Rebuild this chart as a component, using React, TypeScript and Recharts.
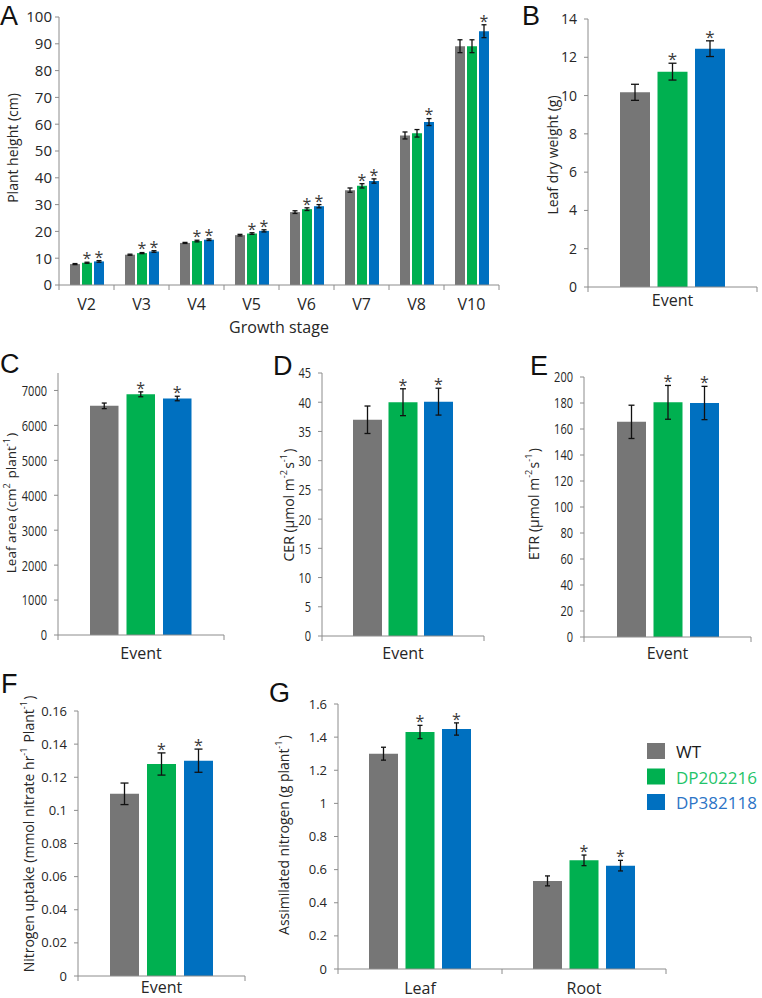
import React from "react";
import { BarChart, Bar, XAxis, YAxis, ErrorBar, LabelList } from "recharts";

const GRAY = "#767676";
const GREEN = "#00b050";
const BLUE = "#0070c0";
const AXIS = "#8c8c8c";
const TEXT = "#262626";
const FONT = "'Open Sans', 'DejaVu Sans', sans-serif";

const seriesNames = ["WT", "DP202216", "DP382118"];
const seriesColors = [GRAY, GREEN, BLUE];
const legendTextColors = ["#1a1a1a", "#1fc46a", "#2c74c6"];

// A - plant height by growth stage
const growthStages = ["V2", "V3", "V4", "V5", "V6", "V7", "V8", "V10"];
const heightWT = [7.8, 11.3, 15.7, 18.6, 27.2, 35.4, 55.8, 89.1];
const heightDP202216 = [8.3, 11.9, 16.4, 19.2, 28.3, 37.0, 56.6, 89.1];
const heightDP382118 = [8.8, 12.5, 16.9, 20.2, 29.4, 38.8, 60.8, 94.7];
const heightErrWT = [0.2, 0.2, 0.2, 0.3, 0.5, 0.8, 1.3, 2.4];
const heightErrDP202216 = [0.2, 0.2, 0.3, 0.3, 0.5, 0.8, 1.4, 2.4];
const heightErrDP382118 = [0.3, 0.3, 0.3, 0.4, 0.6, 0.8, 1.3, 2.4];
const heightSigDP202216 = [true, true, true, true, true, true, false, false];
const heightSigDP382118 = [true, true, true, true, true, true, true, true];

// B-F single "Event" panels, values in order WT, DP202216, DP382118
const eventCategory = ["Event"];
const leafDryWeight = [10.17, 11.25, 12.45];
const leafDryWeightErr = [0.42, 0.44, 0.41];
const leafArea = [6560, 6890, 6770];
const leafAreaErr = [80, 70, 65];
const cer = [37.0, 40.0, 40.1];
const cerErr = [2.35, 2.3, 2.3];
const etr = [165.5, 180.5, 180.0];
const etrErr = [12.8, 13.0, 12.8];
const nitrogenUptake = [0.110, 0.128, 0.130];
const nitrogenUptakeErr = [0.0065, 0.0067, 0.007];
const eventSig = [false, true, true];

// G - assimilated nitrogen by tissue
const tissues = ["Leaf", "Root"];
const assimWT = [1.3, 0.532];
const assimDP202216 = [1.431, 0.656];
const assimDP382118 = [1.449, 0.624];
const assimErrWT = [0.039, 0.03];
const assimErrDP202216 = [0.04, 0.032];
const assimErrDP382118 = [0.037, 0.032];
const assimSigDP202216 = [true, true];
const assimSigDP382118 = [true, true];

type Row = {
  cat: string;
  wt: number; dp1: number; dp2: number;
  wtErr: number; dp1Err: number; dp2Err: number;
  wtSig: boolean; dp1Sig: boolean; dp2Sig: boolean;
};

function buildRows(
  cats: string[],
  wt: number[], dp1: number[], dp2: number[],
  wtE: number[], dp1E: number[], dp2E: number[],
  dp1S: boolean[], dp2S: boolean[]
): Row[] {
  return cats.map((cat, i) => ({
    cat,
    wt: wt[i], dp1: dp1[i], dp2: dp2[i],
    wtErr: wtE[i], dp1Err: dp1E[i], dp2Err: dp2E[i],
    wtSig: false, dp1Sig: dp1S[i], dp2Sig: dp2S[i],
  }));
}

function eventRows(v: number[], e: number[], s: boolean[]): Row[] {
  return buildRows(eventCategory, [v[0]], [v[1]], [v[2]], [e[0]], [e[1]], [e[2]], [s[1]], [s[2]]);
}

const rowsA = buildRows(growthStages, heightWT, heightDP202216, heightDP382118,
  heightErrWT, heightErrDP202216, heightErrDP382118, heightSigDP202216, heightSigDP382118);
const rowsB = eventRows(leafDryWeight, leafDryWeightErr, eventSig);
const rowsC = eventRows(leafArea, leafAreaErr, eventSig);
const rowsD = eventRows(cer, cerErr, eventSig);
const rowsE = eventRows(etr, etrErr, eventSig);
const rowsF = eventRows(nitrogenUptake, nitrogenUptakeErr, eventSig);
const rowsG = buildRows(tissues, assimWT, assimDP202216, assimDP382118,
  assimErrWT, assimErrDP202216, assimErrDP382118, assimSigDP202216, assimSigDP382118);

const seriesKeys: ("wt" | "dp1" | "dp2")[] = ["wt", "dp1", "dp2"];

function starContent(rows: Row[], key: "wt" | "dp1" | "dp2", size: number) {
  return (props: any) => {
    const { x, y, width, height, index } = props;
    const row = rows[index];
    if (!row || !row[`${key}Sig` as keyof Row]) return null;
    const val = row[key] as number;
    const err = row[`${key}Err` as keyof Row] as number;
    const errPx = (err / val) * Number(height);
    return (
      <text
        x={Number(x) + Number(width) / 2}
        y={Number(y) - errPx + size * 0.12}
        textAnchor="middle"
        fontSize={size}
        fontFamily={FONT}
        fill="#3a3a3a"
      >
        *
      </text>
    );
  };
}

function CatTick(props: any) {
  const { x, y, payload, index, band, count, size, baseline } = props;
  const left = x - band / 2;
  const right = x + band / 2;
  return (
    <g>
      <line x1={left} x2={left} y1={y} y2={y + 5} stroke={AXIS} />
      {index === count - 1 && <line x1={right} x2={right} y1={y} y2={y + 5} stroke={AXIS} />}
      <text x={x} y={y + baseline} textAnchor="middle" fontSize={size} fontFamily={FONT} fill={TEXT}>
        {payload.value}
      </text>
    </g>
  );
}

// condensed tick labels as in panels C-E
function NarrowTick(props: any) {
  const { x, y, payload } = props;
  const s = String(payload.value);
  return (
    <text
      x={x}
      y={y}
      dy="0.36em"
      textAnchor="end"
      fontSize={15}
      fontFamily={FONT}
      fill={TEXT}
      textLength={s.length * 6.3}
      lengthAdjust="spacingAndGlyphs"
    >
      {s}
    </text>
  );
}

type PanelProps = {
  box: [number, number, number, number];
  plot: { l: number; r: number; t: number; b: number };
  rows: Row[];
  domain: [number, number];
  ticks: number[];
  tickSize: number;
  tickMargin: number;
  narrow?: boolean;
  catSize: number;
  catBaseline: number;
  barSize: number;
  barGap: number;
  cap: number;
  star: number;
};

function Panel(p: PanelProps) {
  const [x0, y0, W, H] = p.box;
  const band = (p.plot.r - p.plot.l) / p.rows.length;
  return (
    <div style={{ position: "absolute", left: x0, top: y0, width: W, height: H }}>
      <BarChart
        width={W}
        height={H}
        data={p.rows}
        margin={{ top: p.plot.t - y0, right: x0 + W - p.plot.r, left: 0, bottom: 0 }}
        barSize={p.barSize}
        barGap={p.barGap}
      >
        <XAxis
          dataKey="cat"
          height={y0 + H - p.plot.b}
          interval={0}
          tickLine={false}
          tickSize={0}
          tickMargin={0}
          axisLine={{ stroke: AXIS }}
          tick={(t: any) => (
            <CatTick {...t} band={band} count={p.rows.length} size={p.catSize} baseline={p.catBaseline} />
          )}
        />
        <YAxis
          type="number"
          domain={p.domain}
          ticks={p.ticks}
          interval={0}
          width={p.plot.l - x0}
          tickSize={4}
          tickMargin={p.tickMargin}
          axisLine={{ stroke: AXIS }}
          tickLine={{ stroke: AXIS }}
          tick={p.narrow ? (t: any) => <NarrowTick {...t} /> : { fill: TEXT, fontSize: p.tickSize, fontFamily: FONT }}
        />
        {seriesKeys.map((k, i) => (
          <Bar key={k} dataKey={k} name={seriesNames[i]} fill={seriesColors[i]} isAnimationActive={false}>
            <ErrorBar dataKey={`${k}Err`} width={p.cap} stroke="#111" strokeWidth={1.3} isAnimationActive={false} />
            <LabelList dataKey={k} content={starContent(p.rows, k, p.star)} />
          </Bar>
        ))}
      </BarChart>
    </div>
  );
}

function YTitle({ x, y, children, size = 14 }: { x: number; y: number; children: React.ReactNode; size?: number }) {
  return (
    <text
      transform={`translate(${x},${y}) rotate(-90)`}
      textAnchor="middle"
      dominantBaseline="central"
      fontSize={size}
      fontFamily={FONT}
      fill={TEXT}
    >
      {children}
    </text>
  );
}

const Sup = ({ t }: { t: string }) => (
  <>
    <tspan dy={-5} fontSize={9}>{t}</tspan>
    <tspan dy={5}>{"\u200a"}</tspan>
  </>
);

function PanelLetter({ x, y, t }: { x: number; y: number; t: string }) {
  return (
    <text x={x} y={y} fontSize={27} fontFamily="'Liberation Sans', Arial, sans-serif" fill="#111">
      {t}
    </text>
  );
}

export default function App() {
  return (
    <div style={{ position: "relative", width: 762, height: 998, background: "#fff", overflow: "hidden" }}>
      <style>{"body{margin:0}"}</style>
      <Panel
        box={[0, 0, 510, 330]}
        plot={{ l: 59, r: 499, t: 17, b: 285 }}
        rows={rowsA}
        domain={[0, 100]}
        ticks={[0, 10, 20, 30, 40, 50, 60, 70, 80, 90, 100]}
        tickSize={15}
        tickMargin={3}
        catSize={16}
        catBaseline={25}
        barSize={10}
        barGap={2}
        cap={2.5}
        star={16}
      />
      <Panel
        box={[515, 0, 247, 330]}
        plot={{ l: 588, r: 757, t: 19, b: 287 }}
        rows={rowsB}
        domain={[0, 14]}
        ticks={[0, 2, 4, 6, 8, 10, 12, 14]}
        tickSize={14}
        tickMargin={7}
        catSize={16}
        catBaseline={19}
        barSize={30}
        barGap={7.5}
        cap={4}
        star={17}
      />
      <Panel
        box={[0, 340, 235, 335]}
        plot={{ l: 58, r: 224, t: 373, b: 635 }}
        rows={rowsC}
        domain={[0, 7500]}
        ticks={[0, 1000, 2000, 3000, 4000, 5000, 6000, 7000]}
        tickSize={14}
        tickMargin={7}
        narrow
        catSize={16}
        catBaseline={24}
        barSize={28.5}
        barGap={8}
        cap={2.5}
        star={16}
      />
      <Panel
        box={[262, 340, 232, 335]}
        plot={{ l: 322, r: 484, t: 373, b: 636 }}
        rows={rowsD}
        domain={[0, 45]}
        ticks={[0, 5, 10, 15, 20, 25, 30, 35, 40, 45]}
        tickSize={14}
        tickMargin={7}
        narrow
        catSize={16}
        catBaseline={23}
        barSize={29}
        barGap={6.5}
        cap={3}
        star={16}
      />
      <Panel
        box={[525, 340, 237, 335]}
        plot={{ l: 584, r: 751, t: 377, b: 637 }}
        rows={rowsE}
        domain={[0, 200]}
        ticks={[0, 20, 40, 60, 80, 100, 120, 140, 160, 180, 200]}
        tickSize={14}
        tickMargin={7}
        narrow
        catSize={16}
        catBaseline={22}
        barSize={29}
        barGap={7.5}
        cap={3}
        star={16}
      />
      <Panel
        box={[0, 660, 260, 338]}
        plot={{ l: 78, r: 245, t: 711, b: 976 }}
        rows={rowsF}
        domain={[0, 0.16]}
        ticks={[0, 0.02, 0.04, 0.06, 0.08, 0.1, 0.12, 0.14, 0.16]}
        tickSize={13}
        tickMargin={7}
        catSize={16}
        catBaseline={17}
        barSize={29}
        barGap={8}
        cap={4}
        star={16}
      />
      <Panel
        box={[265, 660, 497, 338]}
        plot={{ l: 338, r: 666, t: 704, b: 969 }}
        rows={rowsG}
        domain={[0, 1.6]}
        ticks={[0, 0.2, 0.4, 0.6, 0.8, 1, 1.2, 1.4, 1.6]}
        tickSize={13}
        tickMargin={7}
        catSize={16}
        catBaseline={25}
        barSize={29}
        barGap={7.5}
        cap={2.5}
        star={16}
      />
      <svg
        width={762}
        height={998}
        style={{ position: "absolute", left: 0, top: 0, pointerEvents: "none" }}
      >
        <PanelLetter x={0} y={25} t="A" />
        <PanelLetter x={522} y={25} t="B" />
        <PanelLetter x={0} y={373} t="C" />
        <PanelLetter x={273} y={375} t="D" />
        <PanelLetter x={530} y={375} t="E" />
        <PanelLetter x={1} y={693} t="F" />
        <PanelLetter x={269} y={702} t="G" />

        <YTitle x={12} y={148}>Plant height (cm)</YTitle>
        <text x={279} y={333} textAnchor="middle" fontSize={16} fontFamily={FONT} fill={TEXT}>
          Growth stage
        </text>
        <YTitle x={552} y={155}>Leaf dry weight (g)</YTitle>
        <YTitle x={11} y={503} size={13.5}>
          Leaf area (cm<Sup t="2" /> plant<Sup t="-1" />)
        </YTitle>
        <YTitle x={288} y={505}>
          CER (µmol m<Sup t="-2" />s<Sup t="-1" />)
        </YTitle>
        <YTitle x={533} y={504}>
          ETR (µmol m<Sup t="-2" />s<Sup t="-1" />)
        </YTitle>
        <YTitle x={28} y={834}>
          Nitrogen uptake (mmol nitrate hr<Sup t="-1" /> Plant<Sup t="-1" />)
        </YTitle>
        <YTitle x={283} y={835}>
          Assimilated nitrogen (g plant<Sup t="-1" />)
        </YTitle>

        {seriesNames.map((name, i) => (
          <g key={name}>
            <rect x={647} y={743 + i * 25.5} width={18} height={16} fill={seriesColors[i]} />
            <text
              x={676}
              y={758 + i * 25.5}
              fontSize={17}
              fontFamily={FONT}
              fill={legendTextColors[i]}
            >
              {name}
            </text>
          </g>
        ))}
      </svg>
    </div>
  );
}
